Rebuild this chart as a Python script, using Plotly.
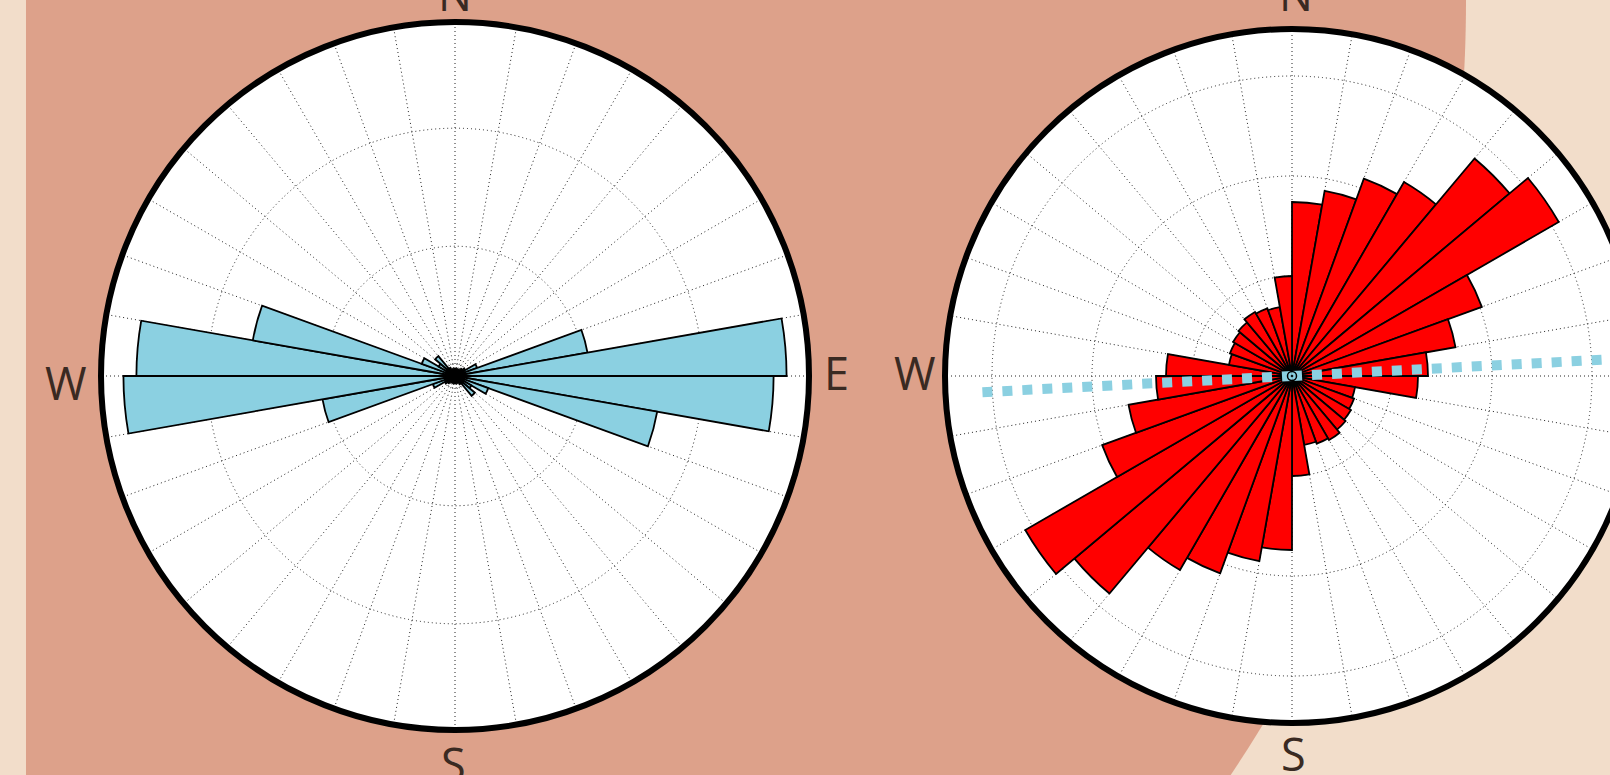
import numpy as np
import plotly.graph_objects as go

# ---- data -------------------------------------------------------------
# 10-degree azimuth bins (bin start, clockwise from north)
bin_start = list(range(0, 360, 10))
bin_center = [b + 5 for b in bin_start]

# left rose (axial data, values for 0-170 repeated for 180-350)
left_values = [0.3, 0.3, 0.3, 0.3, 0.4, 0.5, 1.0, 5.7, 14.05,
               13.5, 8.7, 1.5, 0.8, 1.1, 0.4, 0.3, 0.3, 0.3,
               0.3, 0.3, 0.3, 0.3, 0.4, 0.5, 1.0, 5.7, 14.05,
               13.5, 8.7, 1.5, 0.8, 1.1, 0.4, 0.3, 0.3, 0.3]

# right rose
right_values = [8.7, 9.4, 10.5, 11.2, 14.2, 15.4, 10.1, 8.3, 6.8,
                6.3, 3.2, 3.3, 3.4, 3.5, 3.7, 3.6, 3.5, 5.0,
                8.7, 9.4, 10.5, 11.2, 14.2, 15.4, 10.1, 8.3, 6.8,
                6.3, 3.2, 3.3, 3.4, 3.5, 3.7, 3.6, 3.5, 5.0]

# reference direction drawn on the right rose
ref_dir = [87, 267]
ref_len = 15.5

left_range = 15.0
left_rings = [0.5, 5.5, 10.5]
right_range = 17.35
right_rings = [5, 10, 15]

spokes = list(range(0, 360, 10))
compass = ["N", "E", "S", "W"]

# ---- page geometry (pixels) --------------------------------------------
W, H = 1660, 775
BG_LIGHT = "#F2DDCA"
BG_DARK = "#DDA18A"
BLUE = "#8BD0E1"
RED = "#FF0000"
TXT = "#3A2A22"
GRID = "#222222"
GRID_DASH = "1px,3px"

# compass letter positions (pixel centres) around each rose
left_label_xy = [(455, -6), (837, 373), (453, 763), (66, 382)]
right_label_xy = [(1296, -6), (1667, 373), (1293, 753), (915, 373)]


def px_x(x):
    return x / W


def px_y(y):
    return 1 - y / H


# large backdrop shape: left edge straight, right edge a wide arc
cx, cy, R = 72.0, 0.0, 1394.0
pts = [(26, 0)]
for y in np.linspace(0, H, 60):
    pts.append((cx + np.sqrt(R ** 2 - (y - cy) ** 2), y))
pts.append((26, H))
path = "M " + " L ".join(f"{px_x(x):.5f},{px_y(y):.5f}" for x, y in pts) + " Z"

fig = go.Figure()

fig.add_trace(go.Barpolar(
    r=left_values, theta=bin_center, width=[10] * 36,
    marker=dict(color=BLUE, line=dict(color="black", width=1.8)),
    subplot="polar", showlegend=False, hoverinfo="skip",
))

fig.add_trace(go.Barpolar(
    r=right_values, theta=bin_center, width=[10] * 36,
    marker=dict(color=RED, line=dict(color="black", width=1.8)),
    subplot="polar2", showlegend=False, hoverinfo="skip",
))

# two rays from the centre along the reference direction
fig.add_trace(go.Scatterpolar(
    r=[0, ref_len, None, 0, ref_len],
    theta=[ref_dir[0], ref_dir[0], None, ref_dir[1], ref_dir[1]],
    mode="lines", line=dict(color=BLUE, width=10, dash="dot"),
    connectgaps=False, subplot="polar2", showlegend=False, hoverinfo="skip",
))
fig.add_trace(go.Scatterpolar(
    r=[0], theta=[0], mode="markers",
    marker=dict(symbol="circle-open-dot", size=9, color="black", line=dict(width=1.5)),
    subplot="polar2", showlegend=False, hoverinfo="skip",
))


def polar_layout(cx_px, cy_px, rad, rmax, rings):
    return dict(
        domain=dict(x=[px_x(cx_px - rad), px_x(cx_px + rad)],
                    y=[px_y(cy_px + rad), px_y(cy_px - rad)]),
        bgcolor="white",
        radialaxis=dict(range=[0, rmax], tickvals=rings, showticklabels=False,
                        ticks="", showline=False, showgrid=True,
                        gridcolor=GRID, gridwidth=1, griddash=GRID_DASH),
        angularaxis=dict(rotation=90, direction="clockwise",
                         tickvals=spokes, showticklabels=False,
                         ticks="", showline=True, linecolor="black", linewidth=6,
                         showgrid=True, gridcolor=GRID, gridwidth=1, griddash=GRID_DASH),
    )


annotations = []
for labels_xy in (left_label_xy, right_label_xy):
    for txt, (x, y) in zip(compass, labels_xy):
        annotations.append(dict(
            text=txt, x=px_x(x), y=px_y(y), xref="paper", yref="paper",
            xanchor="center", yanchor="middle", showarrow=False,
            font=dict(family="Open Sans", size=45, color=TXT),
        ))

fig.update_layout(
    width=W, height=H,
    margin=dict(l=0, r=0, t=0, b=0),
    paper_bgcolor=BG_LIGHT,
    polar=polar_layout(455, 376, 354, left_range, left_rings),
    polar2=polar_layout(1292, 376, 347, right_range, right_rings),
    shapes=[dict(type="path", path=path, xref="paper", yref="paper",
                 fillcolor=BG_DARK, line=dict(width=0), layer="below")],
    annotations=annotations,
)

fig.write_html(
    "out.html",
    post_script="document.documentElement.style.overflow='hidden';"
                "document.body.style.overflow='hidden';",
)
